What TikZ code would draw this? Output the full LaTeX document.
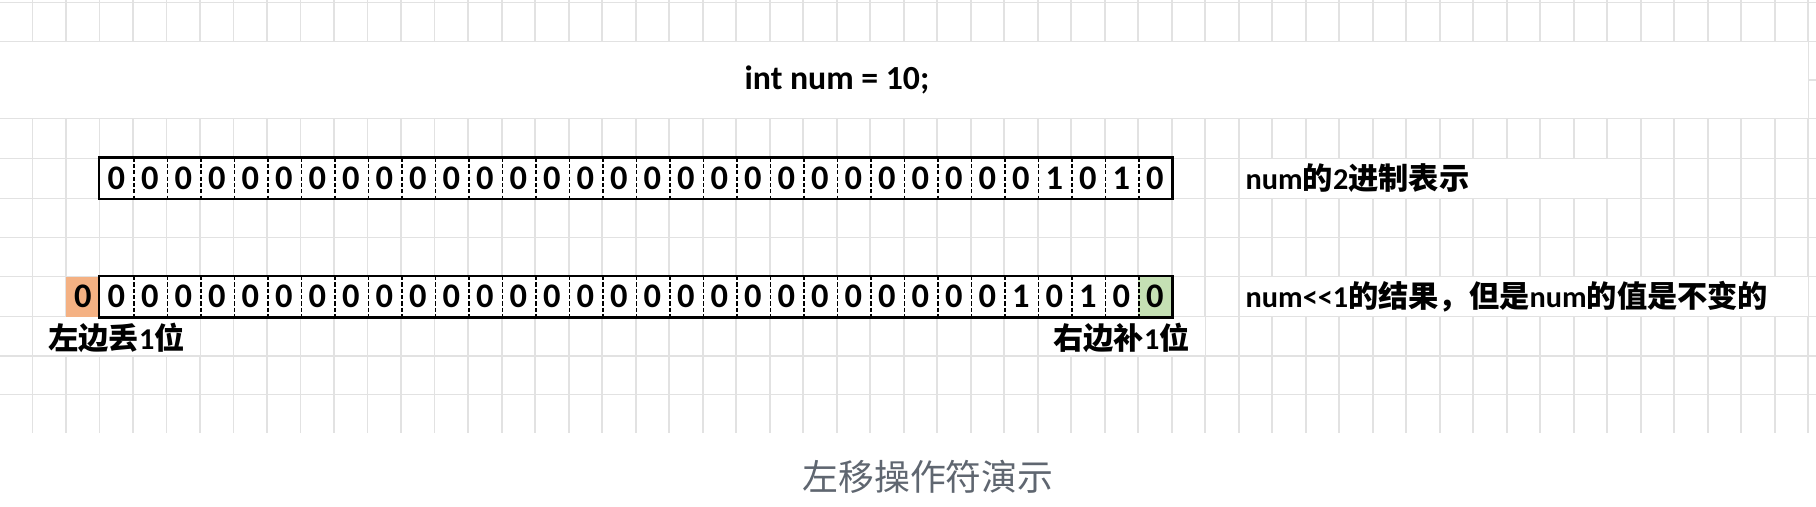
\documentclass[tikz,border=0pt]{standalone}
\usepackage{fontspec}
\setmainfont{Carlito}
\newfontfamily\cjk{Noto Sans CJK SC}
\usetikzlibrary{positioning}
\definecolor{gridgray}{HTML}{E2E2E2}
\definecolor{droporange}{HTML}{F4B183}
\definecolor{padgreen}{HTML}{C5E0B4}
\definecolor{capgray}{HTML}{5F6670}
\newcommand{\zh}[1]{{\cjk\bfseries #1}}

\begin{document}
\begin{tikzpicture}[x=0.01cm,y=-0.01cm,
    gridline/.style={gridgray, line width=0.45pt},
    cover/.style={fill=white, draw=none},
    bitcell/.style={minimum width=3.35mm, minimum height=4mm, inner sep=0pt, fill=white,
      font=\bfseries\fontsize{9.8pt}{11pt}\selectfont},
    sepline/.style={black, line width=0.35pt, dash pattern=on 1.2pt off 0.6pt},
    boxline/.style={black, line width=0.75pt},
    label/.style={anchor=west, inner sep=0pt, font=\bfseries\fontsize{8.6pt}{10pt}\selectfont}]
	\useasboundingbox (0,0) rectangle (1816,506);
	%% the sheet grid behind everything
	\foreach \k in {1,...,54}
		\draw[gridline] ({-0.8+33.5*\k},0) -- ({-0.8+33.5*\k},432.7);
	\foreach \y in {2.7,41.3,79.8,118.3,158.3,198.3,237.3,276.7,316.7,356,394.3}
		\draw[gridline] (0,\y) -- (1816,\y);
	%% merged cells hide the grid
	\fill[cover] (0,42) rectangle (1808,117.6);
	\fill[cover] (1239.5,159) rectangle (1640,197.6);
	\fill[cover] (1239.5,277.4) rectangle (1807.5,316);
	\fill[cover] (33.5,317.4) rectangle (199.5,355.3);
	\fill[cover] (1038.5,317.4) rectangle (1204.5,355.3);
	\node[font=\bfseries\fontsize{9.6pt}{11pt}\selectfont] (decl) at (837,79.8) {int num = 10;};
	%% first row: num in binary
	\foreach \b [count=\i] in {0,0,0,0,0,0,0,0,0,0,0,0,0,0,0,0,0,0,0,0,0,0,0,0,0,0,0,0,1,0,1,0}
		\node[bitcell] (a\i) at ({99.7+33.5*(\i-0.5)},178.3) {\b};
	\foreach \i in {1,...,31}
		\draw[sepline] (a\i.north east) -- (a\i.south east);
	\draw[boxline] (a1.north west) rectangle (a32.south east);
	\node[label] (binlabel) at (1245,178.3) {num\zh{的}2\zh{进制表示}};
	%% second row: num<<1
	\node[bitcell, fill=droporange] (lost) at (82.95,296.7) {0};
	\foreach \b [count=\i] in {0,0,0,0,0,0,0,0,0,0,0,0,0,0,0,0,0,0,0,0,0,0,0,0,0,0,0,1,0,1,0,0}
		\node[bitcell] (b\i) at ({99.7+33.5*(\i-0.5)},296.7) {\b};
	\node[bitcell, fill=padgreen] (b32) at ({99.7+33.5*31.5},296.7) {0};
	\foreach \i in {1,...,31}
		\draw[sepline] (b\i.north east) -- (b\i.south east);
	\draw[boxline] (b1.north west) rectangle (b32.south east);
	\node[label] (shiftlabel) at (1245,296.7) {num<{}<1\zh{的结果，但是}num\zh{的值是不变的}};
	\node[label, anchor=center] (leftnote) at (116.5,338) {\zh{左边丢}1\zh{位}};
	\node[label, anchor=center] (rightnote) at (1121.5,338) {\zh{右边补}1\zh{位}};
	%% caption
	\node[capgray, font=\cjk\fontsize{10.2pt}{12pt}\selectfont] (caption) at (928,477) {左移操作符演示};
\end{tikzpicture}
\end{document}
